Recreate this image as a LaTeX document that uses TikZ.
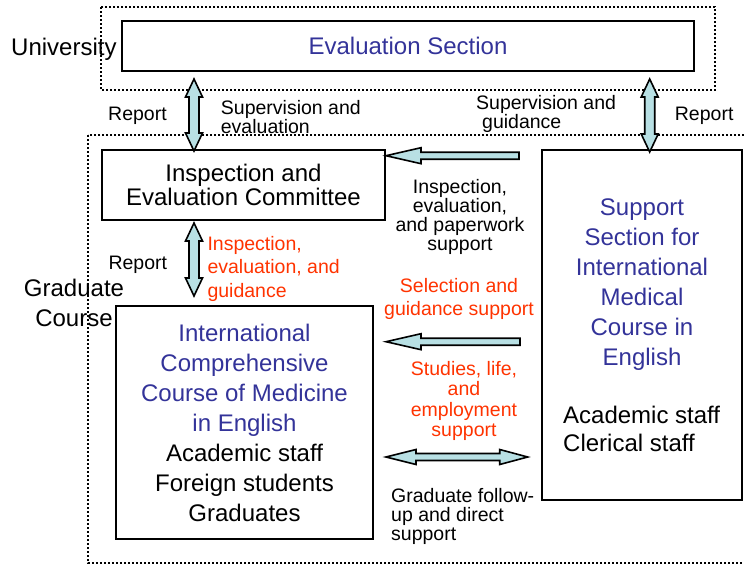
\documentclass[tikz,border=0pt]{standalone}
\usepackage{fontspec}
\setmainfont{Liberation Sans}
\usepackage{xcolor}
\usepackage{tikz}
\usetikzlibrary{calc}

\definecolor{titleblue}{RGB}{51,51,153}
\definecolor{noteRed}{RGB}{255,51,0}
\definecolor{arrowfill}{RGB}{184,224,228}

% fat arrows between two named points
\newcommand{\vdoublearrow}[2]{%
  \draw[blockarrow] let \p1=(#1), \p2=(#2) in
    (\x1,\y1) -- (\x1+8.5pt,\y1-18pt) -- (\x1+5pt,\y1-18pt) -- (\x1+5pt,\y2+18pt)
    -- (\x1+8.5pt,\y2+18pt) -- (\x1,\y2) -- (\x1-8.5pt,\y2+18pt) -- (\x1-5pt,\y2+18pt)
    -- (\x1-5pt,\y1-18pt) -- (\x1-8.5pt,\y1-18pt) -- cycle;}
\newcommand{\hleftarrow}[2]{%
  \draw[blockarrow] let \p1=(#1), \p2=(#2) in
    (\x2,\y2) -- (\x2+35pt,\y2+8pt) -- (\x2+35pt,\y2+3.5pt) -- (\x1,\y2+3.5pt)
    -- (\x1,\y2-3.5pt) -- (\x2+35pt,\y2-3.5pt) -- (\x2+35pt,\y2-8pt) -- cycle;}
\newcommand{\hdoublearrow}[2]{%
  \draw[blockarrow] let \p1=(#1), \p2=(#2) in
    (\x1,\y1) -- (\x1+30pt,\y1+7.5pt) -- (\x1+30pt,\y1+3.5pt) -- (\x2-28pt,\y1+3.5pt)
    -- (\x2-28pt,\y1+7.5pt) -- (\x2,\y1) -- (\x2-28pt,\y1-7.5pt) -- (\x2-28pt,\y1-3.5pt)
    -- (\x1+30pt,\y1-3.5pt) -- (\x1+30pt,\y1-7.5pt) -- cycle;}

\begin{document}
\begin{tikzpicture}[x=1pt,y=-1pt,
    dotbox/.style={line width=1.8pt,dash pattern=on 1.8pt off 2.2pt},
    unitbox/.style={draw,line width=2pt,inner sep=0pt},
    bigtext/.style={inner sep=0pt,align=center,font=\fontsize{24}{30}\selectfont},
    smalltext/.style={inner sep=0pt,font=\fontsize{19.5}{19}\selectfont},
    blockarrow/.style={draw=black,line width=1.6pt,fill=arrowfill,line join=miter}]
    \useasboundingbox (0,0) rectangle (744,565);

    % Frames
    \draw[dotbox] (101,7) rectangle (715,90);
    \draw[dotbox] (88,135) rectangle (752,563);
    \node[bigtext,anchor=base west] (univ) at (11,55) {University};
    \node[bigtext,anchor=base] (gradc) at (74,326.7) {Graduate\\Course};

    % Boxes
    \node[unitbox,bigtext,minimum width=572,minimum height=50,text=titleblue] (eval) at (408,46) {Evaluation Section};
    \node[unitbox,bigtext,minimum width=283,minimum height=70,font=\fontsize{24}{24}\selectfont] (cmte) at (243.5,185) {Inspection and\\Evaluation Committee};
    \node[unitbox,bigtext,minimum width=257,minimum height=233] (course) at (244.5,422.5)
        {\textcolor{titleblue}{International}\\\textcolor{titleblue}{Comprehensive}\\
         \textcolor{titleblue}{Course of Medicine}\\\textcolor{titleblue}{in English}\\
         Academic staff\\Foreign students\\Graduates};
    \node[unitbox,minimum width=200,minimum height=350] (sup) at (642,325) {};
    \node[bigtext,anchor=base,text=titleblue] (suptitle) at (642,365)
        {Support\\Section for\\International\\Medical\\Course in\\English};
    \node[bigtext,anchor=base west,align=left,font=\fontsize{24}{28.7}\selectfont] (supstaff) at (563,451.7)
        {Academic staff\\Clerical staff};

    % Arrow ends
    \coordinate (a1top) at ($(eval.south west)+(73,7)$);
    \coordinate (a1bot) at ($(cmte.north west)+(93,2)$);
    \coordinate (a2top) at ($(eval.south east)+(-45.3,7)$);
    \coordinate (a2bot) at ($(sup.north west)+(106.7,3)$);
    \coordinate (a3top) at ($(cmte.south west)+(93,2)$);
    \coordinate (a3bot) at ($(course.north west)+(79,-9)$);
    \coordinate (a4tail) at ($(sup.north west)+(-22,6.7)$);
    \coordinate (a4tip) at ($(cmte.north east)+(0,6.7)$);
    \coordinate (a5tail) at ($(sup.north west)+(-21,192.7)$);
    \coordinate (a5tip) at ($(course.north east)+(12,36.7)$);
    \coordinate (a6left) at ($(course.south east)+(12,-83)$);
    \coordinate (a6right) at ($(sup.south west)+(-13.3,-44)$);

    \vdoublearrow{a1top}{a1bot}
    \vdoublearrow{a2top}{a2bot}
    \vdoublearrow{a3top}{a3bot}
    \hleftarrow{a4tail}{a4tip}
    \hleftarrow{a5tail}{a5tip}
    \hdoublearrow{a6left}{a6right}

    % Labels
    \node[smalltext,anchor=base west] (rep1) at (108,120) {Report};
    \node[smalltext,anchor=base west,align=left,font=\fontsize{19.5}{17}\selectfont] (supeval) at (220.7,133.7) {Supervision and\\evaluation};
    \node[smalltext,anchor=base west,align=left,font=\fontsize{19.5}{15}\selectfont] (supguide) at (476,128.3) {Supervision and\\\hspace*{6pt}guidance};
    \node[smalltext,anchor=base west] (rep2) at (674.7,120.7) {Report};
    \node[smalltext,anchor=base west] (rep3) at (108.3,269.3) {Report};
    \node[smalltext,anchor=base west,align=left,text=noteRed,font=\fontsize{19.5}{23.5}\selectfont] (insp) at (207.3,297) {Inspection,\\evaluation, and\\guidance};
    \node[smalltext,anchor=base,align=center] (paper) at (460,250) {Inspection,\\evaluation,\\and paperwork\\support};
    \node[smalltext,anchor=base,align=center,text=noteRed,font=\fontsize{19.5}{23.4}\selectfont] (select) at (459,315.7) {Selection and\\guidance support};
    \node[smalltext,anchor=base,align=center,text=noteRed,font=\fontsize{19.5}{20.5}\selectfont] (studies) at (464,436.5) {Studies, life,\\and\\employment\\support};
    \node[smalltext,anchor=base west,align=left] (follow) at (391,540.7) {Graduate follow-\\up and direct\\support};
\end{tikzpicture}
\end{document}
